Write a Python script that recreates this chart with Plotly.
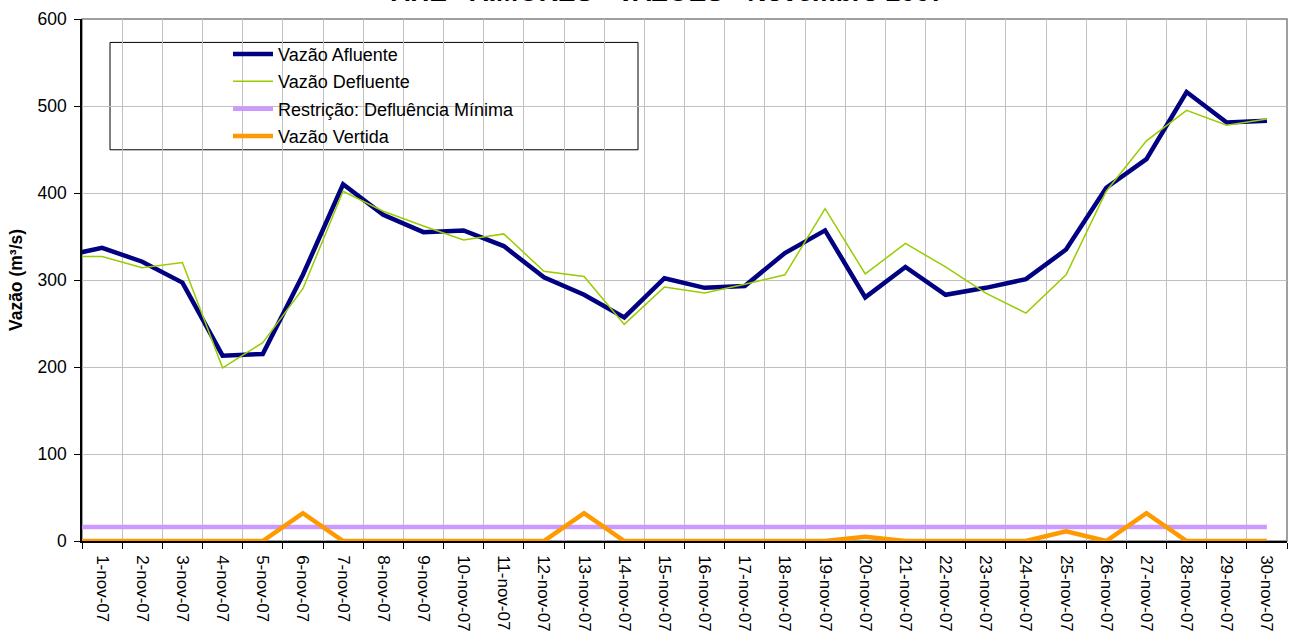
import plotly.graph_objects as go

# Categories (first one precedes the visible range; the lines enter from the left edge)
dias = ["31-out-07"] + [f"{d}-nov-07" for d in range(1, 31)]

vazao_afluente = [327, 337, 321, 297, 213, 215, 306, 410, 375, 355, 357, 339, 303, 283, 257,
                  302, 291, 293, 331, 357, 280, 315, 283, 291, 301, 335, 406, 439, 516, 481, 483]
vazao_defluente = [327, 327, 314, 320, 199, 228, 290, 402, 379, 362, 346, 353, 310, 304, 249,
                   292, 285, 295, 306, 382, 307, 342, 315, 285, 262, 306, 402, 460, 495, 478, 485]
defluencia_minima = [16] * 31
vazao_vertida = [0, 0, 0, 0, 0, 0, 32, 0, 0, 0, 0, 0, 0, 32, 0, 0, 0, 0, 0, 0, 5, 0, 0, 0, 0,
                 11, 0, 32, 0, 0, 0]

titulo = "AHE - AIMORÉS - VAZÕES - Novembro 2007"
y_titulo = "Vazão (m³/s)"
nomes = ["Vazão Afluente", "Vazão Defluente", "Restrição: Defluência Mínima", "Vazão Vertida"]

FONT = "Arial, Liberation Sans, sans-serif"
W, H = 1290, 632
L, R, T, B = 82, 1287, 19.3, 541

fig = go.Figure()
series = [
    (vazao_afluente, "#000080", 4.5),
    (vazao_defluente, "#99CC00", 1.5),
    (defluencia_minima, "#CC99FF", 4.5),
    (vazao_vertida, "#FF9900", 4.5),
]
for i, (vals, cor, lw) in enumerate(series):
    fig.add_trace(go.Scatter(x=dias, y=vals, name=nomes[i], mode="lines",
                             legendgroup=f"g{i}", line=dict(color=cor, width=lw)))

def px_x(p):
    return (p - L) / (R - L)

def px_y(p):
    return (B - p) / (B - T)

# legend frame
fig.add_shape(type="rect", xref="paper", yref="paper",
              x0=px_x(110), x1=px_x(638), y0=px_y(150), y1=px_y(42.7),
              line=dict(color="#000000", width=1), fillcolor="white", layer="between")
# plot border (top/right)
fig.add_shape(type="rect", xref="paper", yref="paper", x0=0, x1=1, y0=0, y1=1,
              line=dict(color="#808080", width=1.5), layer="below")

# chart title (partly above the top edge, as in the source)
fig.add_annotation(text=f"<b>{titulo}</b>", xref="paper", yref="paper",
                   x=px_x(668), y=px_y(9.5), xanchor="center", yanchor="bottom",
                   showarrow=False, font=dict(family=FONT, size=26.5, color="#000000"))

fig.update_layout(
    width=W, height=H,
    margin=dict(l=L, r=W - R, t=T, b=H - B, pad=0, autoexpand=False),
    paper_bgcolor="white", plot_bgcolor="white",
    font=dict(family=FONT, size=18, color="#000000"),
    showlegend=True,
    legend=dict(xref="paper", yref="paper", x=px_x(228), y=px_y(36),
                xanchor="left", yanchor="top", bgcolor="rgba(0,0,0,0)",
                borderwidth=0, font=dict(family=FONT, size=18, color="#000000"),
                tracegroupgap=1, itemwidth=40),
)

fig.update_xaxes(
    type="category", range=[0.5, 30.5], tickson="boundaries", automargin=False,
    ticks="outside", ticklen=6, tickcolor="#000000", tickwidth=1,
    showgrid=True, gridcolor="#C0C0C0", gridwidth=1,
    showline=True, linecolor="#000000", linewidth=1.5,
    tickangle=90, tickfont=dict(family=FONT, size=17), zeroline=False,
    ticklabelstandoff=9,
)
fig.update_yaxes(
    range=[0, 600], dtick=100, tick0=0, automargin=False,
    ticks="outside", ticklen=6, tickcolor="#000000", tickwidth=1,
    showgrid=True, gridcolor="#C0C0C0", gridwidth=1,
    showline=True, linecolor="#000000", linewidth=1.5, zeroline=False,
    tickfont=dict(family=FONT, size=17.5), ticklabelstandoff=4,
    title=dict(text=f"<b>{y_titulo}</b>", standoff=10, font=dict(family=FONT, size=17.5)),
)

fig.write_html("out.html", config={"displayModeBar": False},
               post_script="document.body.style.margin='0px';")
